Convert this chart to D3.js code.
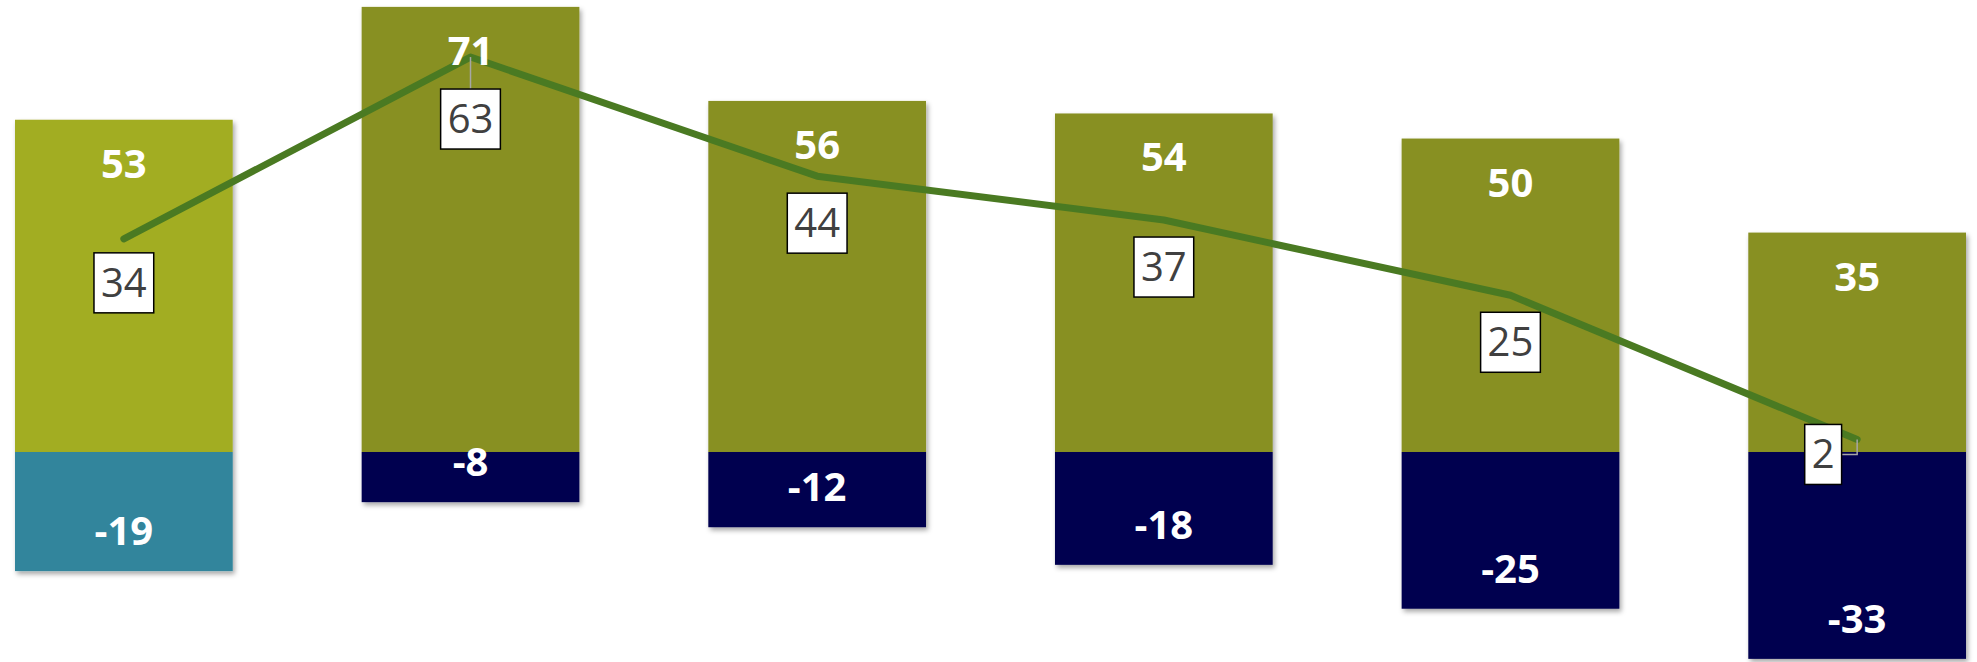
<!DOCTYPE html>
<html>
<head>
<meta charset="utf-8">
<script src="https://cdnjs.cloudflare.com/ajax/libs/d3/7.8.5/d3.min.js"></script>
<style>
  html, body { margin: 0; padding: 0; background: #fff; }
  svg { display: block; }
  text { font-family: "Open Sans", "Noto Sans", sans-serif; }
</style>
</head>
<body>
<div id="chart"></div>
<script>
// chart values
var categories = ["A", "B", "C", "D", "E", "F"];
var positive = [53, 71, 56, 54, 50, 35];
var negative = [-19, -8, -12, -18, -25, -33];
var net = [34, 63, 44, 37, 25, 2];

// label placement (px offsets of the net label box from its point)
var netLabelDx = [0, 0, 0, 0, 0, -34];
var netLabelDy = [14, 32, 17, 17, 17, -15];

var width = 1977, height = 662;

var svg = d3.select("#chart").append("svg")
    .attr("width", width)
    .attr("height", height);

var defs = svg.append("defs");
var shadow = defs.append("filter").attr("id", "shadow")
    .attr("x", "-10%").attr("y", "-10%").attr("width", "130%").attr("height", "130%");
shadow.append("feDropShadow")
    .attr("dx", 2).attr("dy", 3).attr("stdDeviation", 2.5)
    .attr("flood-color", "#000").attr("flood-opacity", 0.35);

var x = d3.scaleBand()
    .domain(categories)
    .range([15, 1966])
    .paddingInner(0.372)
    .paddingOuter(0);

var y = d3.scaleLinear()
    .domain([-33.5, 72.1])
    .range([height, 0]);

var posColor = function(i) { return i === 0 ? "#a2ad24" : "#889021"; };
var negColor = function(i) { return i === 0 ? "#31859c" : "#060050"; };

// bars
var bars = svg.append("g").selectAll("g")
    .data(categories)
    .enter().append("g")
    .attr("filter", "url(#shadow)");

bars.append("rect")
    .attr("x", function(d) { return x(d); })
    .attr("width", x.bandwidth())
    .attr("y", function(d, i) { return y(positive[i]); })
    .attr("height", function(d, i) { return y(0) - y(positive[i]); })
    .attr("fill", function(d, i) { return posColor(i); });

bars.append("rect")
    .attr("x", function(d) { return x(d); })
    .attr("width", x.bandwidth())
    .attr("y", y(0))
    .attr("height", function(d, i) { return y(negative[i]) - y(0); })
    .attr("fill", function(d, i) { return negColor(i); });

// net line
var cx = function(i) { return x(categories[i]) + x.bandwidth() / 2; };

var line = d3.line()
    .x(function(d, i) { return cx(i); })
    .y(function(d) { return y(d); });

svg.append("path")
    .datum(net)
    .attr("d", line)
    .attr("fill", "none")
    .attr("stroke", "#4a7a22")
    .attr("stroke-width", 7)
    .attr("stroke-linecap", "round")
    .attr("stroke-linejoin", "round");

// bar value labels
var labels = svg.append("g")
    .attr("fill", "#fff")
    .attr("font-weight", "bold")
    .attr("font-size", 40)
    .attr("text-anchor", "middle");

labels.selectAll(".pos")
    .data(positive)
    .enter().append("text")
    .attr("x", function(d, i) { return cx(i); })
    .attr("y", function(d) { return y(d) + 58; })
    .text(function(d) { return d; });

labels.selectAll(".neg")
    .data(negative)
    .enter().append("text")
    .attr("x", function(d, i) { return cx(i); })
    .attr("y", function(d) { return y(d) - 26; })
    .text(function(d) { return d; });

// net labels in boxes
var boxH = 60;
var netG = svg.append("g").selectAll("g")
    .data(net)
    .enter().append("g");

netG.each(function(d, i) {
    var g = d3.select(this);
    var px = cx(i), py = y(d);
    var bx = px + netLabelDx[i];
    var by = py + netLabelDy[i];
    var t = g.append("text")
        .attr("x", bx)
        .attr("y", by + boxH / 2 + 14)
        .attr("text-anchor", "middle")
        .attr("font-size", 40)
        .attr("fill", "#404040")
        .text(d);
    var w = t.node().getComputedTextLength() + 14;

    // leader line when the box is moved away
    if (netLabelDx[i] !== 0) {
        g.insert("polyline", "text")
            .attr("points", [[px, py], [px, by + boxH / 2], [bx + w / 2, by + boxH / 2]].join(" "))
            .attr("fill", "none").attr("stroke", "#a6a6a6").attr("stroke-width", 1.5);
    } else if (netLabelDy[i] > 25) {
        g.insert("line", "text")
            .attr("x1", px).attr("y1", py)
            .attr("x2", px).attr("y2", by)
            .attr("stroke", "#a6a6a6").attr("stroke-width", 1.5);
    }

    g.insert("rect", "text")
        .attr("x", bx - w / 2)
        .attr("y", by)
        .attr("width", w)
        .attr("height", boxH)
        .attr("fill", "#fff")
        .attr("stroke", "#000")
        .attr("stroke-width", 1.5);
});
</script>
</body>
</html>
